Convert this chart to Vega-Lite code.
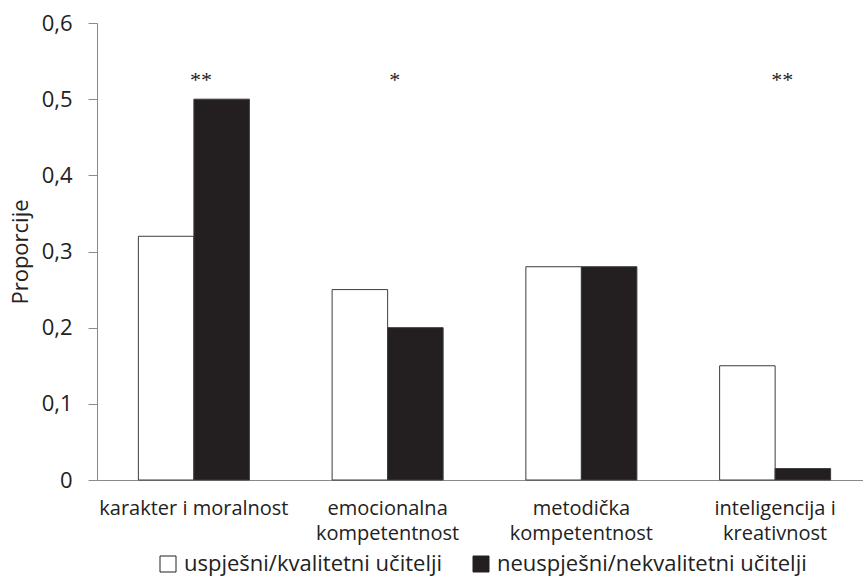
{
  "$schema": "https://vega.github.io/schema/vega-lite/v6.json",
  "autosize": {"type": "none"},
  "width": 766,
  "height": 457,
  "padding": {"left": 97, "top": 23, "right": 0, "bottom": 96},
  "background": "white",
  "config": {
    "view": {"stroke": null},
    "font": "Open Sans",
    "axis": {"grid": false, "domainColor": "#8a8a8a", "tickColor": "#8a8a8a", "labelColor": "#222222", "titleColor": "#222222", "labelFont": "Open Sans", "titleFont": "Open Sans"},
    "legend": {"labelFont": "Open Sans"}
  },
  "datasets": {
    "bars": [
      {"category": "karakter i moralnost", "group": "uspješni/kvalitetni učitelji", "value": 0.32},
      {"category": "karakter i moralnost", "group": "neuspješni/nekvalitetni učitelji", "value": 0.5},
      {"category": "emocionalna|kompetentnost", "group": "uspješni/kvalitetni učitelji", "value": 0.25},
      {"category": "emocionalna|kompetentnost", "group": "neuspješni/nekvalitetni učitelji", "value": 0.2},
      {"category": "metodička|kompetentnost", "group": "uspješni/kvalitetni učitelji", "value": 0.28},
      {"category": "metodička|kompetentnost", "group": "neuspješni/nekvalitetni učitelji", "value": 0.28},
      {"category": "inteligencija i|kreativnost", "group": "uspješni/kvalitetni učitelji", "value": 0.15},
      {"category": "inteligencija i|kreativnost", "group": "neuspješni/nekvalitetni učitelji", "value": 0.015}
    ],
    "stars": [
      {"category": "karakter i moralnost", "mark": "**", "pos": 0.525},
      {"category": "emocionalna|kompetentnost", "mark": "*", "pos": 0.525},
      {"category": "inteligencija i|kreativnost", "mark": "**", "pos": 0.525}
    ]
  },
  "layer": [
    {
      "data": {"name": "bars"},
      "mark": {"type": "bar", "stroke": "#3c3c3c", "strokeWidth": 1},
      "encoding": {
        "x": {
          "field": "category", "type": "nominal", "sort": null,
          "scale": {"range": [0, 775], "paddingInner": 0.427, "paddingOuter": 0.2135},
          "axis": {
            "title": null, "labelAngle": 0, "ticks": false,
            "labelExpr": "split(datum.label, '|')",
            "labelFontSize": 20, "labelLineHeight": 25, "labelPadding": 18,
            "labelBaseline": "top", "labelLimit": 400
          }
        },
        "xOffset": {"field": "group", "type": "nominal", "sort": null},
        "y": {
          "field": "value", "type": "quantitative",
          "scale": {"domain": [0, 0.6], "nice": false},
          "axis": {
            "title": "Proporcije", "titleFontSize": 22, "titleFontWeight": "normal", "titlePadding": 9,
            "values": [0, 0.1, 0.2, 0.3, 0.4, 0.5, 0.6],
            "labelExpr": "datum.value == 0 ? '0' : replace(format(datum.value, '.1f'), '.', ',')",
            "labelFontSize": 22, "tickSize": 9, "labelPadding": 16
          }
        },
        "fill": {
          "field": "group", "type": "nominal", "sort": null,
          "scale": {"range": ["#ffffff", "#231f20"]},
          "legend": {
            "title": null, "orient": "none", "direction": "horizontal",
            "legendX": 60, "legendY": 530,
            "symbolType": "square", "symbolSize": 256,
            "symbolStrokeColor": "#222222", "symbolStrokeWidth": 1,
            "labelFontSize": 22, "labelColor": "#222222",
            "labelOffset": 5, "columnPadding": 27, "labelLimit": 500
          }
        }
      }
    },
    {
      "data": {"name": "stars"},
      "mark": {"type": "text", "font": "Liberation Serif", "fontSize": 22, "color": "#222222", "dx": 7, "baseline": "middle"},
      "encoding": {
        "x": {"field": "category", "type": "nominal", "sort": null},
        "y": {"field": "pos", "type": "quantitative"},
        "text": {"field": "mark"}
      }
    }
  ]
}
